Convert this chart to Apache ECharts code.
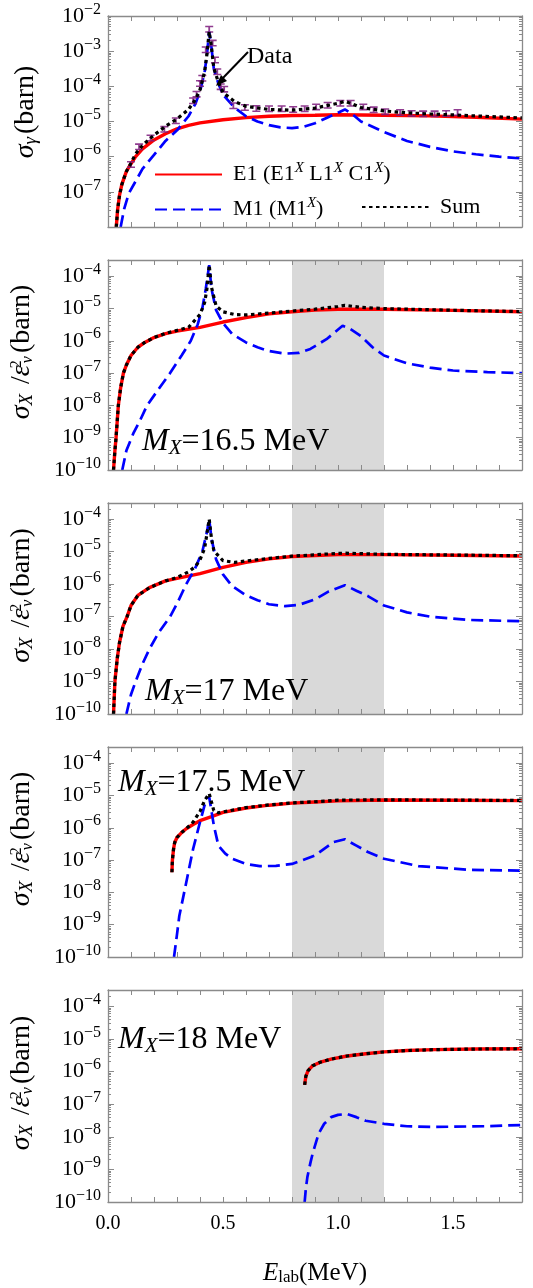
<!DOCTYPE html>
<html><head><meta charset="utf-8">
<script src="https://cdn.jsdelivr.net/npm/echarts@6/dist/echarts.min.js"></script>
<style>html,body{margin:0;padding:0;background:#fff}#c{width:533px;height:1288px}</style>
</head><body><div id="c"></div>
<script>
// ---------------- data: [E_lab (MeV), cross section (barn)] ----------------
// Panel 1: sigma_gamma
const P1_E1 = [[0.036,1.0e-8],[0.042,3.2e-8],[0.05,7.9e-8],[0.06,1.6e-7],[0.07,2.5e-7],[0.08,3.8e-7],[0.10,6.3e-7],[0.12,1.0e-6],[0.15,1.66e-6],[0.20,3.0e-6],[0.25,4.5e-6],[0.30,6.2e-6],[0.35,7.8e-6],[0.40,9.1e-6],[0.50,1.12e-5],[0.60,1.29e-5],[0.70,1.41e-5],[0.80,1.48e-5],[0.90,1.51e-5],[1.00,1.55e-5],[1.20,1.51e-5],[1.40,1.45e-5],[1.60,1.32e-5],[1.80,1.17e-5]];
const P1_M1 = [[0.055,1.0e-8],[0.07,3.2e-8],[0.09,8.9e-8],[0.12,2.0e-7],[0.15,4.5e-7],[0.20,1.12e-6],[0.25,2.8e-6],[0.30,5.6e-6],[0.35,1.41e-5],[0.38,3.2e-5],[0.40,7.1e-5],[0.42,2.5e-4],[0.43,7.9e-4],[0.44,3.6e-3],[0.45,1.26e-3],[0.46,3.2e-4],[0.48,1.2e-4],[0.50,5.8e-5],[0.55,2.5e-5],[0.60,1.41e-5],[0.65,1.0e-5],[0.70,7.9e-6],[0.75,6.8e-6],[0.80,6.5e-6],[0.85,7.1e-6],[0.90,8.9e-6],[0.95,1.26e-5],[1.00,1.78e-5],[1.03,2.2e-5],[1.06,1.66e-5],[1.10,1.0e-5],[1.20,5.0e-6],[1.30,2.8e-6],[1.40,1.9e-6],[1.50,1.41e-6],[1.60,1.17e-6],[1.70,1.0e-6],[1.80,8.9e-7]];
const P1_SUM = [[0.036,1.0e-8],[0.042,3.2e-8],[0.05,7.9e-8],[0.06,1.6e-7],[0.07,2.5e-7],[0.08,3.8e-7],[0.10,6.6e-7],[0.12,1.2e-6],[0.15,2.1e-6],[0.20,4.1e-6],[0.25,7.3e-6],[0.30,1.18e-5],[0.35,2.2e-5],[0.38,4.2e-5],[0.40,8.0e-5],[0.42,2.6e-4],[0.43,8.0e-4],[0.44,3.6e-3],[0.45,1.27e-3],[0.46,3.3e-4],[0.48,1.3e-4],[0.50,6.7e-5],[0.55,3.7e-5],[0.60,2.7e-5],[0.70,2.2e-5],[0.80,2.1e-5],[0.90,2.4e-5],[1.00,3.3e-5],[1.03,3.75e-5],[1.06,3.2e-5],[1.10,2.5e-5],[1.20,2.0e-5],[1.30,1.76e-5],[1.40,1.64e-5],[1.50,1.54e-5],[1.60,1.44e-5],[1.70,1.35e-5],[1.80,1.26e-5]];
const P1_DATA = [[0.10,6.0e-7],[0.135,1.9e-6],[0.185,3.4e-6],[0.245,6.0e-6],[0.295,1.05e-5],[0.37,3.9e-5],[0.385,6.0e-5],[0.40,1.2e-4],[0.41,1.7e-4],[0.425,1.1e-3],[0.44,4.2e-3],[0.455,1.7e-3],[0.465,5.6e-4],[0.475,2.6e-4],[0.49,9.8e-5],[0.505,8.3e-5],[0.545,2.8e-5],[0.595,2.5e-5],[0.645,2.35e-5],[0.70,2.3e-5],[0.755,2.3e-5],[0.805,2.2e-5],[0.855,2.3e-5],[0.905,2.6e-5],[0.955,2.9e-5],[1.01,3.3e-5],[1.055,3.3e-5],[1.11,2.6e-5],[1.155,2.15e-5],[1.205,1.9e-5],[1.27,1.8e-5],[1.32,1.7e-5],[1.37,1.65e-5],[1.42,1.65e-5],[1.47,1.7e-5],[1.52,1.8e-5]];

// Panel 2: M_X = 16.5 MeV
const P2_E1 = [[0.024,1.0e-10],[0.03,4.0e-10],[0.035,1.0e-9],[0.045,1.0e-8],[0.055,3.5e-8],[0.067,1.0e-7],[0.08,1.78e-7],[0.10,3.5e-7],[0.13,6.3e-7],[0.16,8.9e-7],[0.20,1.26e-6],[0.25,1.66e-6],[0.30,2.0e-6],[0.40,2.6e-6],[0.50,3.8e-6],[0.60,5.2e-6],[0.70,6.8e-6],[0.80,7.9e-6],[0.90,8.9e-6],[1.00,9.5e-6],[1.20,9.5e-6],[1.50,8.7e-6],[1.80,7.9e-6]];
const P2_M1 = [[0.062,1.0e-10],[0.08,4.0e-10],[0.11,1.35e-9],[0.14,3.5e-9],[0.17,1.0e-8],[0.22,3.2e-8],[0.27,1.0e-7],[0.32,3.5e-7],[0.36,1.0e-6],[0.39,3.2e-6],[0.41,1.0e-5],[0.425,4.0e-5],[0.44,2.2e-4],[0.45,4.0e-5],[0.47,8.9e-6],[0.50,3.5e-6],[0.54,1.62e-6],[0.60,8.9e-7],[0.65,6.3e-7],[0.70,4.8e-7],[0.77,4.0e-7],[0.83,4.2e-7],[0.88,5.6e-7],[0.95,1.12e-6],[1.02,2.9e-6],[1.05,2.4e-6],[1.10,1.4e-6],[1.15,6.3e-7],[1.20,3.5e-7],[1.30,2.0e-7],[1.40,1.48e-7],[1.50,1.2e-7],[1.65,1.07e-7],[1.80,1.0e-7]];
const P2_SUM = [[0.024,1.0e-10],[0.03,4.0e-10],[0.035,1.0e-9],[0.045,1.0e-8],[0.055,3.5e-8],[0.067,1.0e-7],[0.08,1.78e-7],[0.10,3.5e-7],[0.13,6.3e-7],[0.16,8.9e-7],[0.20,1.26e-6],[0.25,1.7e-6],[0.30,2.1e-6],[0.35,2.6e-6],[0.38,4.5e-6],[0.40,6.5e-6],[0.42,1.5e-5],[0.43,4.0e-5],[0.44,2.2e-4],[0.45,4.5e-5],[0.47,1.2e-5],[0.50,7.9e-6],[0.55,6.5e-6],[0.60,6.3e-6],[0.70,7.2e-6],[0.80,8.3e-6],[0.90,9.5e-6],[1.00,1.15e-5],[1.03,1.25e-5],[1.10,1.08e-5],[1.20,9.9e-6],[1.50,8.8e-6],[1.80,8.0e-6]];

// Panel 3: M_X = 17 MeV
const P3_E1 = [[0.024,1.0e-10],[0.03,1.0e-9],[0.04,5.0e-9],[0.05,1.58e-8],[0.065,5.0e-8],[0.083,1.0e-7],[0.10,2.2e-7],[0.13,4.5e-7],[0.18,7.8e-7],[0.25,1.26e-6],[0.30,1.51e-6],[0.40,2.1e-6],[0.50,3.3e-6],[0.60,4.7e-6],[0.70,6.0e-6],[0.80,7.1e-6],[1.00,8.1e-6],[1.20,8.1e-6],[1.50,7.8e-6],[1.80,7.4e-6]];
const P3_M1 = [[0.08,1.0e-10],[0.10,4.0e-10],[0.12,1.0e-9],[0.15,3.5e-9],[0.18,1.0e-8],[0.22,3.2e-8],[0.27,1.0e-7],[0.30,2.5e-7],[0.34,1.0e-6],[0.38,3.2e-6],[0.41,1.0e-5],[0.43,4.0e-5],[0.44,1.0e-4],[0.45,2.5e-5],[0.47,5.8e-6],[0.50,2.0e-6],[0.54,8.7e-7],[0.60,4.5e-7],[0.65,3.2e-7],[0.70,2.4e-7],[0.77,2.1e-7],[0.83,2.3e-7],[0.90,3.4e-7],[0.96,6.0e-7],[1.03,9.3e-7],[1.08,6.3e-7],[1.13,4.3e-7],[1.20,2.2e-7],[1.30,1.35e-7],[1.40,1.0e-7],[1.57,7.9e-8],[1.80,7.2e-8]];
const P3_SUM = [[0.024,1.0e-10],[0.03,1.0e-9],[0.04,5.0e-9],[0.05,1.58e-8],[0.065,5.0e-8],[0.083,1.0e-7],[0.10,2.2e-7],[0.13,4.5e-7],[0.18,7.8e-7],[0.25,1.26e-6],[0.30,1.6e-6],[0.35,2.4e-6],[0.38,3.5e-6],[0.40,5.6e-6],[0.42,1.26e-5],[0.43,3.5e-5],[0.44,1.0e-4],[0.45,2.5e-5],[0.46,1.12e-5],[0.47,8.9e-6],[0.50,5.3e-6],[0.55,4.7e-6],[0.60,5.2e-6],[0.70,6.2e-6],[0.80,7.3e-6],[0.90,8.0e-6],[1.00,8.9e-6],[1.03,9.0e-6],[1.10,8.7e-6],[1.20,8.3e-6],[1.50,7.9e-6],[1.80,7.5e-6]];

// Panel 4: M_X = 17.5 MeV
const P4_E1 = [[0.278,4.2e-8],[0.28,1.0e-7],[0.285,2.2e-7],[0.29,3.5e-7],[0.30,5.0e-7],[0.32,7.1e-7],[0.34,9.3e-7],[0.37,1.26e-6],[0.40,1.66e-6],[0.45,2.2e-6],[0.50,3.0e-6],[0.60,4.1e-6],[0.70,5.0e-6],[0.80,5.8e-6],[0.90,6.3e-6],[1.00,6.8e-6],[1.20,7.2e-6],[1.50,7.1e-6],[1.80,6.9e-6]];
const P4_M1 = [[0.287,1.0e-10],[0.30,5.0e-10],[0.31,1.86e-9],[0.34,2.0e-8],[0.37,2.2e-7],[0.40,1.5e-6],[0.42,5.0e-6],[0.44,9.0e-6],[0.46,1.2e-6],[0.48,2.8e-7],[0.51,1.58e-7],[0.54,1.1e-7],[0.60,7.6e-8],[0.66,6.5e-8],[0.73,6.6e-8],[0.80,7.6e-8],[0.90,1.38e-7],[0.98,3.6e-7],[1.03,4.4e-7],[1.08,2.8e-7],[1.13,1.78e-7],[1.20,1.1e-7],[1.35,6.5e-8],[1.57,5.0e-8],[1.80,4.7e-8]];
const P4_SUM = [[0.278,4.2e-8],[0.28,1.0e-7],[0.285,2.2e-7],[0.29,3.5e-7],[0.30,5.0e-7],[0.32,7.1e-7],[0.34,9.3e-7],[0.37,1.5e-6],[0.40,3.2e-6],[0.42,7.0e-6],[0.44,1.15e-5],[0.46,3.4e-6],[0.48,2.9e-6],[0.50,3.1e-6],[0.60,4.2e-6],[0.70,5.1e-6],[0.80,5.9e-6],[0.90,6.4e-6],[1.00,7.2e-6],[1.20,7.3e-6],[1.50,7.2e-6],[1.80,7.0e-6]];

// Panel 5: M_X = 18 MeV
const P5_E1 = [[0.855,3.9e-7],[0.86,7.1e-7],[0.87,1.07e-6],[0.89,1.51e-6],[0.92,1.9e-6],[0.97,2.4e-6],[1.04,3.0e-6],[1.12,3.5e-6],[1.20,4.0e-6],[1.30,4.4e-6],[1.42,4.7e-6],[1.60,4.9e-6],[1.80,5.0e-6]];
const P5_M1 = [[0.855,1.0e-10],[0.86,2.5e-10],[0.867,5.9e-10],[0.88,1.58e-9],[0.89,3.1e-9],[0.916,1.26e-8],[0.94,2.5e-8],[0.97,4.0e-8],[1.00,4.7e-8],[1.04,5.0e-8],[1.08,4.0e-8],[1.12,3.1e-8],[1.20,2.5e-8],[1.30,2.1e-8],[1.42,2.0e-8],[1.64,2.1e-8],[1.80,2.3e-8]];
const P5_SUM = [[0.855,3.9e-7],[0.86,7.1e-7],[0.87,1.07e-6],[0.89,1.51e-6],[0.92,1.9e-6],[0.97,2.4e-6],[1.04,3.0e-6],[1.12,3.5e-6],[1.20,4.0e-6],[1.30,4.4e-6],[1.42,4.7e-6],[1.60,4.9e-6],[1.80,5.0e-6]];

const PANEL_MASS = ['16.5', '17', '17.5', '18'];
const X_TICK_LABELS = ['0.0', '0.5', '1.0', '1.5'];
const SHADE_RANGE = [0.8, 1.2];
const SERIES_NAMES = ['E1', 'M1', 'Sum'];

// ---------------- layout ----------------
const FONT = 'Liberation Serif';
const AXC = '#8a8a8a';
const GRIDS = [
  {top: 16, height: 211},
  {top: 260, height: 210},
  {top: 503, height: 211},
  {top: 747, height: 210},
  {top: 990, height: 212}
];
const Y_RANGES = [[1e-8, 1e-2], [1e-10, Math.pow(10, -3.5)], [1e-10, Math.pow(10, -3.5)], [1e-10, Math.pow(10, -3.5)], [1e-10, Math.pow(10, -3.5)]];

const chart = echarts.init(document.getElementById('c'), null, {renderer: 'canvas'});

function xAxesFor(g, showLabels) {
  const base = {
    gridIndex: g, type: 'value', min: 0, max: 1.8, interval: 0.1, z: 5,
    axisLine: {show: true, onZero: false, lineStyle: {color: AXC, width: 1.3}},
    axisTick: {show: true, inside: true, length: 5, lineStyle: {color: AXC, width: 1}},
    splitLine: {show: false}
  };
  return [
    Object.assign({}, base, {position: 'bottom', axisLabel: {show: showLabels, interval: 0, margin: 12,
      fontFamily: FONT, fontSize: 20, color: '#000',
      formatter: v => { const t = Math.round(v * 10); return (t % 5 === 0 && t < 18) ? X_TICK_LABELS[t / 5] : ''; }}}),
    Object.assign({}, base, {position: 'top', axisLabel: {show: false}})
  ];
}

function yAxesFor(g) {
  const [mn, mx] = Y_RANGES[g];
  const minor = [];
  for (let n = Math.round(Math.log10(mn)); n < Math.ceil(Math.log10(mx)); n++) {
    for (let k = 2; k <= 9; k++) { const v = k * Math.pow(10, n); if (v > mn && v < mx) minor.push(v); }
  }
  const hideMin = (g === 0);
  const common = {gridIndex: g, type: 'log', logBase: 10, min: mn, max: mx, z: 5,
    splitLine: {show: false}, minorTick: {show: false}, minorSplitLine: {show: false}};
  const lbl = {show: true, margin: 7, color: '#000', fontFamily: FONT, fontSize: 22,
    formatter: v => {
      const e = Math.log10(v), r = Math.round(e);
      if (Math.abs(e - r) > 1e-6) return '';
      if (hideMin && Math.abs(v - mn) / mn < 1e-6) return '';
      return '{b|10}{s|\u2212' + (-r) + '}';
    },
    rich: {
      b: {fontFamily: FONT, fontSize: 22, color: '#000'},
      s: {fontFamily: FONT, fontSize: 16, color: '#000', padding: [0, 0, 13, 0]}
    }};
  return [
    Object.assign({}, common, {position: 'left', axisLine: {show: true, onZero: false, lineStyle: {color: AXC, width: 1.3}},
      axisTick: {show: true, inside: true, length: 6, lineStyle: {color: AXC}}, axisLabel: lbl}),
    Object.assign({}, common, {position: 'left', axisLine: {show: false, onZero: false},
      axisTick: {show: true, inside: true, length: 3, customValues: minor, lineStyle: {color: AXC}}, axisLabel: {show: false}}),
    Object.assign({}, common, {position: 'right', axisLine: {show: true, onZero: false, lineStyle: {color: AXC, width: 1.3}},
      axisTick: {show: true, inside: true, length: 6, lineStyle: {color: AXC}}, axisLabel: {show: false}}),
    Object.assign({}, common, {position: 'right', axisLine: {show: false, onZero: false},
      axisTick: {show: true, inside: true, length: 3, customValues: minor, lineStyle: {color: AXC}}, axisLabel: {show: false}})
  ];
}

const PANELS = [
  [P1_E1, P1_M1, P1_SUM],
  [P2_E1, P2_M1, P2_SUM],
  [P3_E1, P3_M1, P3_SUM],
  [P4_E1, P4_M1, P4_SUM],
  [P5_E1, P5_M1, P5_SUM]
];

const grid = [], xAxis = [], yAxis = [], series = [];
GRIDS.forEach((gr, g) => {
  grid.push({left: 108, right: 11, top: gr.top, height: gr.height, outerBoundsMode: 'none', containLabel: false});
  xAxis.push(...xAxesFor(g, g === 4));
  yAxis.push(...yAxesFor(g));
  const [e1, m1, sum] = PANELS[g];
  const red = {name: SERIES_NAMES[0], type: 'line', xAxisIndex: 2 * g, yAxisIndex: 4 * g, data: e1,
    symbol: 'none', showSymbol: false, z: 2, lineStyle: {color: '#ff0000', width: 3.4}, itemStyle: {color: '#ff0000'}};
  if (g > 0) {
    red.markArea = {silent: true, z: 1, itemStyle: {color: '#d9d9d9', opacity: 1},
      data: [[{xAxis: SHADE_RANGE[0]}, {xAxis: SHADE_RANGE[1]}]]};
  }
  series.push(red);
  series.push({name: SERIES_NAMES[1], type: 'line', xAxisIndex: 2 * g, yAxisIndex: 4 * g, data: m1,
    symbol: 'none', showSymbol: false, z: 3, lineStyle: {color: '#0000ff', width: 2.7, type: [12, 6]}, itemStyle: {color: '#0000ff'}});
  if (g === 0) {
    series.push({name: 'Data', type: 'scatter', xAxisIndex: 0, yAxisIndex: 0, data: P1_DATA, z: 3,
      symbol: 'path://M0,0H8V1.8H4.9V6.2H8V8H0V6.2H3.1V1.8H0Z', symbolSize: [8, 7],
      itemStyle: {color: '#7d1a7d', opacity: 0.85}});
  }
  series.push({name: SERIES_NAMES[2], type: 'line', xAxisIndex: 2 * g, yAxisIndex: 4 * g, data: sum,
    symbol: 'none', showSymbol: false, z: 4, lineStyle: {color: '#000000', width: 3.2, type: [3.5, 3.5]}, itemStyle: {color: '#000'}});
});

const legendText = {fontFamily: FONT, fontSize: 22, color: '#000', padding: [0, 0, 0, 6],
  rich: {s: {fontFamily: FONT, fontSize: 15, fontStyle: 'italic', color: '#000', padding: [0, 0, 12, 0]},
         n: {fontFamily: FONT, fontSize: 22, color: '#000'}}};
const legendFmt = name => {
  if (name === 'E1') return '{n|E1 (E1}{s|X}{n| L1}{s|X}{n| C1}{s|X}{n|)}';
  if (name === 'M1') return '{n|M1 (M1}{s|X}{n|)}';
  return '{n|Sum}';
};
const legendBase = {orient: 'horizontal', itemWidth: 67, itemHeight: 14, selectedMode: false,
  itemStyle: {opacity: 0, borderWidth: 0},
  textStyle: legendText, formatter: legendFmt, padding: 0};
const legend = [
  Object.assign({}, legendBase, {data: ['E1'], left: 154, top: 161}),
  Object.assign({}, legendBase, {data: ['M1'], left: 154, top: 196}),
  Object.assign({}, legendBase, {data: ['Sum'], left: 361, top: 196})
];

// ---------------- text annotations ----------------
const titleRich = {
  i: {fontFamily: FONT, fontSize: 28, fontStyle: 'italic', fill: '#000'},
  n: {fontFamily: FONT, fontSize: 28, fill: '#000'},
  sb: {fontFamily: FONT, fontSize: 19, fontStyle: 'italic', fill: '#000', padding: [10, 3, 0, 0]},
  sp: {fontFamily: FONT, fontSize: 16, fill: '#000', padding: [0, 0, 11, 1], width: 0},
  sbv: {fontFamily: FONT, fontSize: 16, fontStyle: 'italic', fill: '#000', padding: [11, 3, 0, 1]}
};
const graphic = [];
graphic.push({type: 'text', x: 26, y: 112, rotation: Math.PI / 2, z: 100,
  style: {text: '{i|\u03c3}{sb|\u03b3}{n|(barn)}', rich: titleRich, align: 'center', verticalAlign: 'middle'}});
for (let g = 1; g < 5; g++) {
  graphic.push({type: 'text', x: 22, y: GRIDS[g].top + GRIDS[g].height / 2 - 13, rotation: Math.PI / 2, z: 100,
    style: {text: '{i|\u03c3}{sb|X}{n| /}{i|\u03b5}{sp|2}{sbv|v}{n|(barn)}', rich: titleRich, align: 'center', verticalAlign: 'middle'}});
}
const mRich = {
  i: {fontFamily: FONT, fontSize: 32, fontStyle: 'italic', fill: '#000'},
  s: {fontFamily: FONT, fontSize: 21, fontStyle: 'italic', fill: '#000', padding: [12, 0, 0, 0]},
  n: {fontFamily: FONT, fontSize: 32, fill: '#000'}
};
const M_POS = [[142, 442], [145, 692], [118, 783], [118, 1040]];
PANEL_MASS.forEach((m, k) => {
  graphic.push({type: 'text', x: M_POS[k][0], y: M_POS[k][1], z: 100,
    style: {text: '{i|M}{s|X}{n|=' + m + ' MeV}', rich: mRich, align: 'left', verticalAlign: 'middle'}});
});
graphic.push({type: 'text', x: 315, y: 1273, z: 100,
  style: {text: '{i|E}{s|lab}{n|(MeV)}', align: 'center', verticalAlign: 'middle',
    rich: {i: {fontFamily: FONT, fontSize: 25, fontStyle: 'italic', fill: '#000'},
           s: {fontFamily: FONT, fontSize: 17, fill: '#000', padding: [9, 0, 0, 0]},
           n: {fontFamily: FONT, fontSize: 25, fill: '#000'}}}});
graphic.push({type: 'text', x: 247, y: 57, z: 100,
  style: {text: 'Data', fontFamily: FONT, fontSize: 24, fill: '#000', align: 'left', verticalAlign: 'middle'}});
graphic.push({type: 'line', shape: {x1: 248, y1: 52, x2: 221, y2: 80}, style: {stroke: '#000', lineWidth: 2}, z: 100});
graphic.push({type: 'polygon', shape: {points: [[216, 86], [227, 81], [221, 75]]}, style: {fill: '#000'}, z: 100});

chart.setOption({
  animation: false,
  backgroundColor: '#ffffff',
  grid, xAxis, yAxis, series, legend, graphic
});
</script></body></html>
